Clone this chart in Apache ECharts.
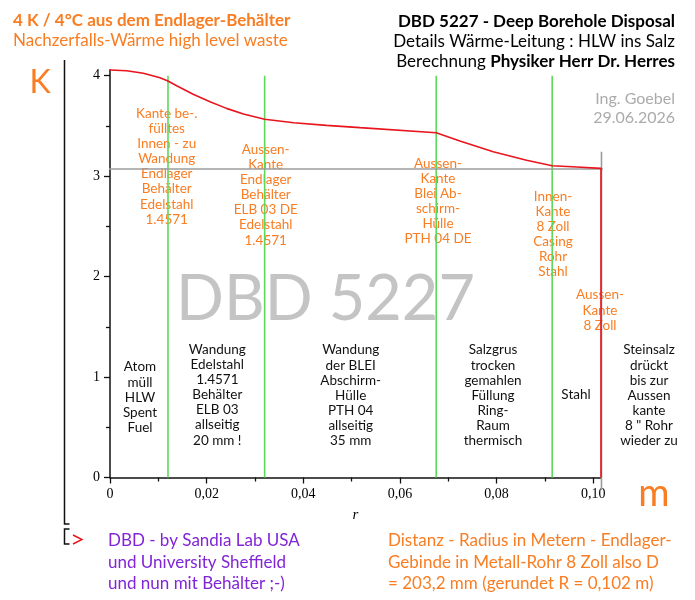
<!DOCTYPE html>
<html>
<head>
<meta charset="utf-8">
<script src="https://cdn.jsdelivr.net/npm/echarts@6/dist/echarts.min.js"></script>
<style>html,body{margin:0;padding:0;background:#fff}#c{width:695px;height:600px}</style>
</head>
<body>
<div id="c"></div>
<script>
// ---- data ----
const curveR = [0, 0.00345, 0.0069, 0.01035, 0.012, 0.0138, 0.0172, 0.0207, 0.0241, 0.0276, 0.032, 0.038, 0.0448, 0.0517, 0.0675, 0.0724, 0.0793, 0.0862, 0.0915, 0.0966, 0.1016, 0.1016];
const curveK = [4.057, 4.05, 4.024, 3.98, 3.947, 3.90, 3.815, 3.741, 3.675, 3.619, 3.566, 3.532, 3.506, 3.483, 3.433, 3.35, 3.243, 3.158, 3.104, 3.091, 3.078, 0];
const boundaryR = [0.012, 0.032, 0.0675, 0.0915];
const boundaryTop = 4;
const refLineK = 3.071;
const refLineR = [-0.0072, 0.1054];
const edgeR = 0.1017;
const edgeK = [3.243, -0.125];
const xTicks = [0, 0.02, 0.04, 0.06, 0.08, 0.10];
const xMinor = [0.01, 0.03, 0.05, 0.07, 0.09];
const yTicks = [0, 1, 2, 3, 4];
const yMinor = [0.5, 1.5, 2.5, 3.5];
const orangeNotes = [
  "Kante be-.\nfülltes\nInnen - zu\nWandung\nEndlager\nBehälter\nEdelstahl\n1.4571",
  "Aussen-\nKante\nEndlager\nBehälter\nELB 03 DE\nEdelstahl\n1.4571",
  "Aussen-\nKante\nBlei Ab-\nschirm-\nHülle\nPTH 04 DE",
  "Innen-\nKante\n8 Zoll\nCasing\nRohr\nStahl",
  "Aussen-\nKante\n8 Zoll"
];
const blackNotes = [
  "Atom\nmüll\nHLW\nSpent\nFuel",
  "Wandung\nEdelstahl\n1.4571\nBehälter\nELB 03\nallseitig\n20 mm !",
  "Wandung\nder BLEI\nAbschirm-\nHülle\nPTH 04\nallseitig\n35 mm",
  "Salzgrus\ntrocken\ngemahlen\nFüllung\nRing-\nRaum\nthermisch",
  "Stahl",
  "Steinsalz\ndrückt\nbis zur\nAussen\nkante\n8 \" Rohr\nwieder zu"
];
const titleLeft = ["4 K / 4°C aus dem Endlager-Behälter", "Nachzerfalls-Wärme high level waste"];
const titleRight = ["DBD 5227 - Deep Borehole Disposal", "Details Wärme-Leitung : HLW ins Salz", "Berechnung ", "Physiker Herr Dr. Herres"];
const author = ["Ing. Goebel", "29.06.2026"];
const footLeft = ["DBD - by Sandia Lab USA", "und University Sheffield", "und nun mit Behälter ;-)"];
const footRight = ["Distanz - Radius in Metern - Endlager-", "Gebinde in Metall-Rohr 8 Zoll also D", "= 203,2 mm (gerundet R = 0,102 m)"];
const watermark = "DBD 5227";

// ---- layout / style ----
const ORANGE = '#F97D22';
const PURPLE = '#8225D6';
const SANS = 'Lato, "Noto Sans", sans-serif';
const SERIF = '"Liberation Serif", "DejaVu Serif", serif';

const orangePos = [[166.7, 106], [265.7, 142], [438, 156], [553, 189], [600, 287.5]];
const blackPos = [[140, 359.5], [217.3, 342], [350.7, 342.5], [493, 342.5], [576, 387.5], [649, 342.5]];

const chart = echarts.init(document.getElementById('c'));

const fmt = v => v === 0 ? '0' : v.toFixed(2).replace('.', ',');

const series = [];
series.push({
  type: 'line', data: curveR.map((r, i) => [r, curveK[i]]), showSymbol: false, symbol: 'none',
  lineStyle: { color: '#E8141E', width: 1.6 }, z: 5, clip: false, animation: false
});
boundaryR.forEach(r => series.push({
  type: 'line', data: [[r, 0], [r, boundaryTop]], symbol: 'none',
  lineStyle: { color: '#5ED85A', width: 1.6 }, z: 3, animation: false
}));
series.push({
  type: 'line', data: refLineR.map(r => [r, refLineK]), symbol: 'none', clip: false,
  lineStyle: { color: '#9C9C9C', width: 1.6 }, z: 4, animation: false
});
series.push({
  type: 'line', data: edgeK.map(k => [edgeR, k]), symbol: 'none', clip: false,
  lineStyle: { color: '#9C9C9C', width: 1.6 }, z: 4, animation: false
});

const graphics = [];
graphics.push({ type: 'text', x: 325.5, y: 300, z: -10, style: { text: watermark, font: '400 63px ' + SANS, fill: '#C4C4C4', textAlign: 'center', textVerticalAlign: 'middle' } });
orangeNotes.forEach((t, i) => graphics.push({ type: 'text', x: orangePos[i][0], y: orangePos[i][1], style: { text: t, font: '13.5px ' + SANS, fill: ORANGE, textAlign: 'center', textVerticalAlign: 'top', lineHeight: 15.1 } }));
blackNotes.forEach((t, i) => graphics.push({ type: 'text', x: blackPos[i][0], y: blackPos[i][1], style: { text: t, font: '13.5px ' + SANS, fill: '#111', textAlign: 'center', textVerticalAlign: 'top', lineHeight: 15.1 } }));
graphics.push({ type: 'text', x: 13, y: 21, style: { text: titleLeft[0], font: 'bold 17px ' + SANS, fill: ORANGE, textVerticalAlign: 'middle' } });
graphics.push({ type: 'text', x: 13, y: 40.5, style: { text: titleLeft[1], font: '17px ' + SANS, fill: ORANGE, textVerticalAlign: 'middle' } });
graphics.push({ type: 'text', x: 675, y: 21.5, style: { text: titleRight[0], font: 'bold 17px ' + SANS, fill: '#000', textAlign: 'right', textVerticalAlign: 'middle' } });
graphics.push({ type: 'text', x: 675, y: 41.5, style: { text: titleRight[1], font: '17px ' + SANS, fill: '#000', textAlign: 'right', textVerticalAlign: 'middle' } });
graphics.push({ type: 'text', x: 675, y: 61.5, style: {
  text: '{r|' + titleRight[2] + '}{b|' + titleRight[3] + '}', textAlign: 'right', textVerticalAlign: 'middle',
  rich: { r: { font: '17px ' + SANS, fill: '#000' }, b: { font: 'bold 17px ' + SANS, fill: '#000' } } } });
graphics.push({ type: 'text', x: 675, y: 98.5, style: { text: author[0], font: '16px ' + SANS, fill: '#ABABAB', textAlign: 'right', textVerticalAlign: 'middle' } });
graphics.push({ type: 'text', x: 675, y: 118, style: { text: author[1], font: '16px ' + SANS, fill: '#ABABAB', textAlign: 'right', textVerticalAlign: 'middle' } });
graphics.push({ type: 'text', x: 40, y: 83, style: { text: 'K', font: '32px ' + SANS, fill: ORANGE, textAlign: 'center', textVerticalAlign: 'middle' } });
graphics.push({ type: 'text', x: 654, y: 494, style: { text: 'm', font: '38px ' + SANS, fill: ORANGE, textAlign: 'center', textVerticalAlign: 'middle' } });
footLeft.forEach((t, i) => graphics.push({ type: 'text', x: 108, y: 541 + i * 21.5, style: { text: t, font: '17px ' + SANS, fill: PURPLE, textVerticalAlign: 'middle' } }));
footRight.forEach((t, i) => graphics.push({ type: 'text', x: 388, y: 541 + i * 21.5, style: { text: t, font: '17px ' + SANS, fill: ORANGE, textVerticalAlign: 'middle' } }));
// left bracket decoration
const blk = { stroke: '#111', lineWidth: 1.5 };
graphics.push({ type: 'polyline', shape: { points: [[64.5, 60], [64.5, 524], [69.5, 524]] }, style: Object.assign({ fill: null }, blk) });
graphics.push({ type: 'polyline', shape: { points: [[69.5, 529], [64.5, 529], [64.5, 544], [69.5, 544]] }, style: Object.assign({ fill: null }, blk) });
graphics.push({ type: 'polyline', shape: { points: [[73, 535], [82, 539.5], [73, 544]] }, style: { fill: null, stroke: '#E8141E', lineWidth: 1.4 } });

const option = {
  animation: false,
  grid: { left: 110, right: 94, top: 69.7, bottom: 122.5, containLabel: false, outerBoundsMode: 'none' },
  xAxis: [{
    type: 'value', min: 0, max: 0.1016,
    name: 'r', nameLocation: 'middle', nameGap: 30,
    nameTextStyle: { fontFamily: SERIF, fontStyle: 'italic', fontSize: 15, color: '#000' },
    axisLine: { lineStyle: { color: '#111', width: 1.5 } },
    axisTick: { customValues: xTicks, length: 6, lineStyle: { color: '#111', width: 1.3 } },
    axisLabel: { customValues: xTicks, formatter: fmt, fontFamily: SERIF, fontSize: 14, color: '#000', margin: 10 },
    splitLine: { show: false }
  }, {
    type: 'value', min: 0, max: 0.1016, position: 'bottom',
    axisLine: { show: false },
    axisTick: { customValues: xMinor, length: 4, lineStyle: { color: '#111', width: 1.3 } },
    axisLabel: { show: false }, splitLine: { show: false }
  }],
  yAxis: [{
    type: 'value', min: 0, max: 4.06,
    axisLine: { show: true, lineStyle: { color: '#111', width: 1.5 } },
    axisTick: { show: true, customValues: yTicks, length: 6, lineStyle: { color: '#111', width: 1.3 } },
    axisLabel: { customValues: yTicks, fontFamily: SERIF, fontSize: 14, color: '#000', margin: 10 },
    splitLine: { show: false }
  }, {
    type: 'value', min: 0, max: 4.06, position: 'left',
    axisLine: { show: false },
    axisTick: { show: true, customValues: yMinor, length: 4, lineStyle: { color: '#111', width: 1.3 } },
    axisLabel: { show: false }, splitLine: { show: false }
  }],
  series: series,
  graphic: graphics
};
chart.setOption(option);
</script>
</body>
</html>
